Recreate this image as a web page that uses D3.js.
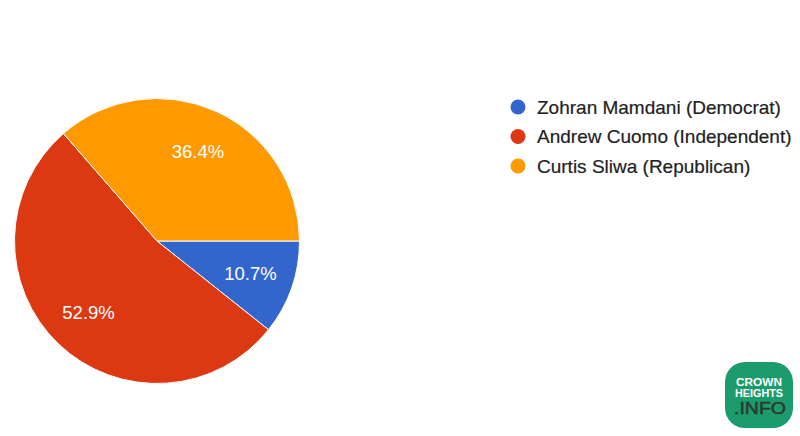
<!DOCTYPE html>
<html><head><meta charset="utf-8">
<script src="https://cdn.jsdelivr.net/npm/d3@7"></script>
<style>html,body{margin:0;padding:0;background:#fff;}svg{display:block;}</style>
</head><body>
<svg id="c" width="800" height="436"></svg>
<script>
const categories = ["Zohran Mamdani (Democrat)", "Andrew Cuomo (Independent)", "Curtis Sliwa (Republican)"];
const values = [10.7, 52.9, 36.4];
const labels = ["10.7%", "52.9%", "36.4%"];
const colors = ["#3366cc", "#dc3912", "#ff9900"];

const svg = d3.select("#c");
const cx = 157, cy = 241, R = 142.5;
const g = svg.append("g").attr("transform", `translate(${cx},${cy})`);
const pie = d3.pie().sort(null).value(d => d).startAngle(Math.PI/2).endAngle(Math.PI/2 + 2*Math.PI);
const arcs = pie(values);
const arc = d3.arc().innerRadius(0).outerRadius(R);
g.selectAll("path").data(arcs).join("path")
  .attr("d", arc).attr("fill", (d,i) => colors[i])
  .attr("stroke", "#fff").attr("stroke-width", 1);
const lr = 99;
g.selectAll("text").data(arcs).join("text")
  .attr("x", d => { const a = (d.startAngle + d.endAngle)/2; return Math.sin(a)*lr; })
  .attr("y", d => { const a = (d.startAngle + d.endAngle)/2; return -Math.cos(a)*lr; })
  .attr("dy", "0.36em").attr("text-anchor", "middle")
  .attr("fill", "#fff").attr("font-family", "Liberation Sans, Arial, sans-serif").attr("font-size", 18.5)
  .text((d,i) => labels[i]);

const lg = svg.append("g");
const ly = d3.scalePoint().domain(categories).range([107, 166]);
const items = lg.selectAll("g").data(categories).join("g")
  .attr("transform", d => `translate(0,${ly(d)})`);
items.append("circle").attr("cx", 518).attr("cy", 0).attr("r", 7.5).attr("fill", (d,i) => colors[i]);
items.append("text").attr("x", 537).attr("y", 0).attr("dy", "0.36em")
  .attr("fill", "#222").attr("font-family", "Liberation Sans, Arial, sans-serif").attr("font-size", 19)
  .attr("stroke", "#222").attr("stroke-width", 0.2)
  .text(d => d);

// logo
const logo = svg.append("g").attr("transform", "translate(725,362)");
logo.append("rect").attr("width", 68).attr("height", 66).attr("rx", 20).attr("fill", "#1c9c6c");
logo.append("text").attr("x", 34).attr("y", 23.5).attr("text-anchor", "middle").attr("fill", "#fff")
  .attr("font-family", "Liberation Sans, Arial, sans-serif").attr("font-weight", "bold").attr("font-size", 10)
  .attr("textLength", 46).attr("lengthAdjust", "spacingAndGlyphs").text("CROWN");
logo.append("text").attr("x", 34).attr("y", 35).attr("text-anchor", "middle").attr("fill", "#fff")
  .attr("font-family", "Liberation Sans, Arial, sans-serif").attr("font-weight", "bold").attr("font-size", 10)
  .attr("textLength", 48).attr("lengthAdjust", "spacingAndGlyphs").text("HEIGHTS");
logo.append("text").attr("x", 35).attr("y", 52).attr("text-anchor", "middle").attr("fill", "#2b3833")
  .attr("font-family", "Liberation Sans, Arial, sans-serif").attr("font-size", 16)
  .attr("stroke", "#2b3833").attr("stroke-width", 0.5)
  .attr("textLength", 52).attr("lengthAdjust", "spacingAndGlyphs").text(".INFO");
</script>
</body></html>
